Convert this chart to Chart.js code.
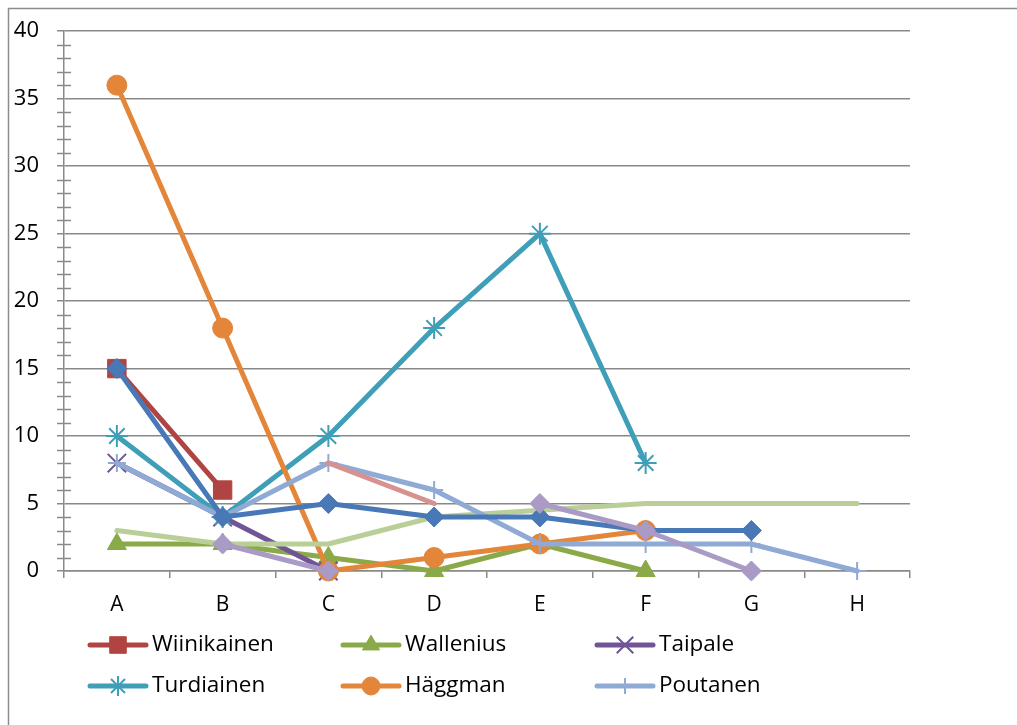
<!DOCTYPE html>
<html>
<head>
<meta charset="utf-8">
<script src="https://cdn.jsdelivr.net/npm/chart.js@4.4.1/dist/chart.umd.min.js"></script>
<style>
  html, body { margin: 0; padding: 0; background: #fff; }
  #wrap { width: 1017px; height: 725px; position: relative; }
</style>
</head>
<body>
<div id="wrap"><canvas id="chart"></canvas></div>
<script>
const categories = ['A', 'B', 'C', 'D', 'E', 'F', 'G', 'H']
const yTicks = [0, 5, 10, 15, 20, 25, 30, 35, 40]

const wiinikainen = [15, 6, null, null, null, null, null, null]
const wallenius = [2, 2, 1, 0, 2, 0, null, null]
const taipale = [8, 4, 0, null, null, null, null, null]
const turdiainen = [10, 4, 10, 18, 25, 8, null, null]
const haggman = [36, 18, 0, 1, 2, 3, null, null]
const poutanen = [8, 4, 8, 6, 2, 2, 2, 0]
// series without a visible legend entry
const sarja7 = [15, 4, 5, 4, 4, 3, 3, null]
const sarja8 = [3, 2, 2, 4, 4.5, 5, 5, 5]
const sarja9 = [null, null, 8, 5, null, null, null, null]
const sarja10 = [null, 2, 0, null, 5, 3, 0, null]

const legendNames = ['Wiinikainen', 'Wallenius', 'Taipale', 'Turdiainen', 'Häggman', 'Poutanen']

const grey = '#898989'
Chart.defaults.font.family = "'Open Sans', sans-serif"

function series(label, data, color, style, radius, pointBorder) {
    return {
        label: label,
        data: data,
        borderColor: color,
        backgroundColor: color,
        borderWidth: 5,
        borderCapStyle: 'round',
        borderJoinStyle: 'round',
        pointStyle: style,
        pointRadius: radius,
        pointBorderWidth: pointBorder || 1,
        pointBorderColor: color,
        pointBackgroundColor: color,
        tension: 0,
        spanGaps: false,
        clip: false
    }
}

// first dataset is drawn on top
const datasets = [
    series('Sarja10', sarja10, '#a99bc5', 'rectRot', 10),
    series('Sarja7', sarja7, '#4879b6', 'rectRot', 10),
    series('Sarja9', sarja9, '#d7928f', false, 0),
    series('Poutanen', poutanen, '#8faad4', 'cross', 9, 2),
    series('Sarja8', sarja8, '#bacf98', false, 0),
    series('Häggman', haggman, '#e4863a', 'circle', 10),
    series('Turdiainen', turdiainen, '#3f9fb8', 'star', 11, 2),
    series('Taipale', taipale, '#6f5596', 'crossRot', 13, 2),
    series('Wallenius', wallenius, '#8aa948', 'triangle', 11),
    series('Wiinikainen', wiinikainen, '#b04442', 'rect', 13)
]

const minorTicks = {
    id: 'minorTicks',
    beforeDatasetsDraw(chart) {
        const y = chart.scales.y
        const ctx = chart.ctx
        ctx.save()
        ctx.strokeStyle = grey
        ctx.lineWidth = 1.5
        for (let v = 0; v <= 40; v++) {
            if (v % 5 === 0) continue
            const py = Math.round(y.getPixelForValue(v)) + 0.5
            ctx.beginPath()
            ctx.moveTo(y.right - 7, py)
            ctx.lineTo(y.right + 7, py)
            ctx.stroke()
        }
        ctx.restore()
    }
}

const frame = {
    id: 'frame',
    afterDraw(chart) {
        const ctx = chart.ctx
        ctx.save()
        ctx.strokeStyle = '#8c8c8c'
        ctx.lineWidth = 1.5
        ctx.strokeRect(8.5, 8.5, 2000, 2000)
        ctx.restore()
    }
}

const columnLegend = {
    id: 'columnLegend',
    afterDraw(chart) {
        const ctx = chart.ctx
        const cols = [90, 343, 597]
        const rows = [645, 686]
        ctx.save()
        legendNames.forEach((name, i) => {
            const ds = chart.data.datasets.find(d => d.label === name)
            const x = cols[i % 3]
            const y = rows[Math.floor(i / 3)]
            ctx.strokeStyle = ds.borderColor
            ctx.fillStyle = ds.borderColor
            ctx.lineWidth = 5
            ctx.lineCap = 'round'
            ctx.beginPath()
            ctx.moveTo(x, y)
            ctx.lineTo(x + 56, y)
            ctx.stroke()
            ctx.lineWidth = ds.pointBorderWidth
            ctx.lineCap = 'butt'
            Chart.helpers.drawPoint(ctx, {
                pointStyle: ds.pointStyle,
                radius: ds.pointRadius * 0.9,
                borderWidth: ds.pointBorderWidth,
                rotation: 0
            }, x + 28, y)
            ctx.fillStyle = '#000'
            ctx.font = "22.5px 'Open Sans', sans-serif"
            ctx.textBaseline = 'middle'
            ctx.textAlign = 'left'
            ctx.fillText(name, x + 62, y)
        })
        ctx.restore()
    }
}

new Chart(document.getElementById('chart'), {
    type: 'line',
    data: { labels: categories, datasets: datasets },
    options: {
        responsive: true,
        maintainAspectRatio: false,
        animation: false,
        layout: { padding: { left: 0, top: 29, right: 107, bottom: 114 } },
        plugins: { legend: { display: false }, tooltip: { enabled: false } },
        scales: {
            x: {
                offset: true,
                grid: { drawOnChartArea: false, drawTicks: true, tickLength: 7, color: grey, lineWidth: 1.5, offset: true },
                border: { color: grey, width: 1.5 },
                ticks: { color: '#000', font: { size: 21 }, padding: 14 },
                afterFit(s) { s.height = 40 }
            },
            y: {
                min: 0,
                max: 40,
                afterBuildTicks(s) { s.ticks = yTicks.map(v => ({ value: v })) },
                grid: { color: grey, lineWidth: 1.5, tickLength: 7 },
                border: { color: grey, width: 1.5 },
                ticks: { color: '#000', font: { size: 22 }, padding: 18 },
                afterFit(s) { s.width = 64 }
            }
        }
    },
    plugins: [minorTicks, frame, columnLegend]
})
</script>
</body>
</html>
